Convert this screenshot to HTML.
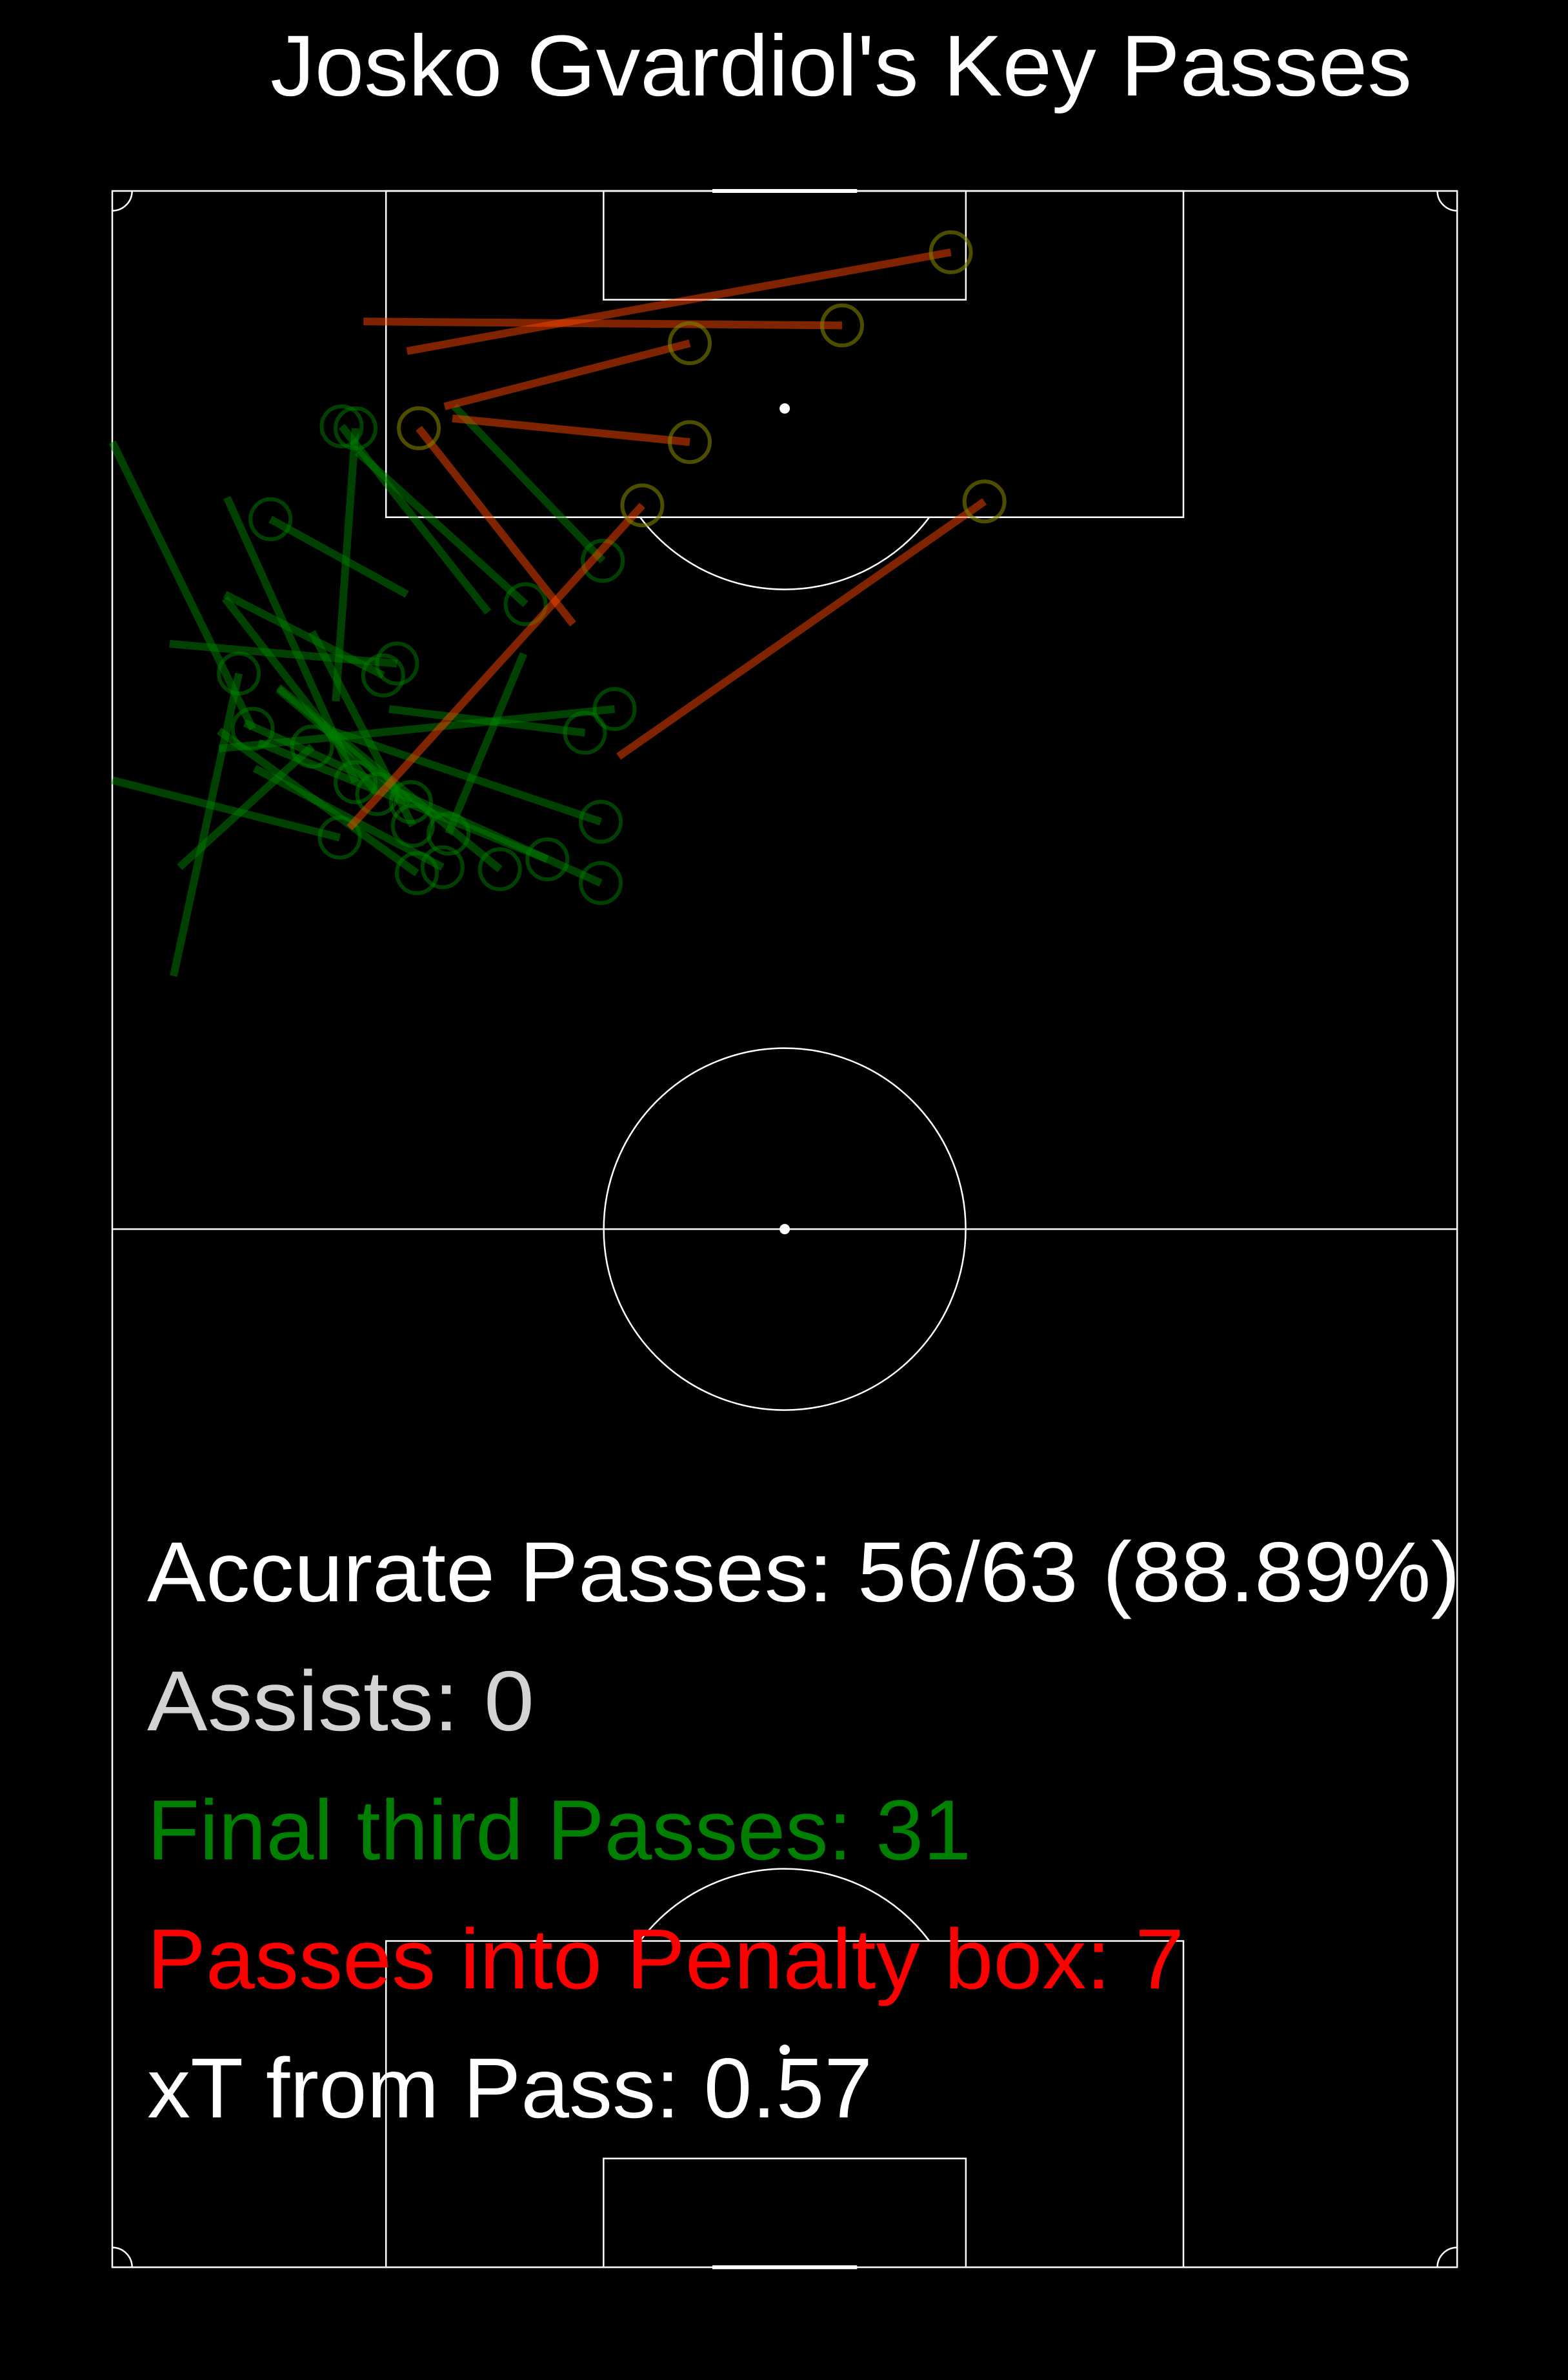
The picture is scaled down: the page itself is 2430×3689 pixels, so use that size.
<!DOCTYPE html>
<html><head><meta charset="utf-8">
<style>
html,body{margin:0;padding:0;background:#000;}
svg{display:block;}
text{font-family:"Liberation Sans",sans-serif;}
</style></head>
<body>
<svg id="chart" width="2430" height="3689" viewBox="0 0 2430 3689" xmlns="http://www.w3.org/2000/svg">
<rect width="2430" height="3689" fill="#000"/>
<text x="419" y="148" font-size="134" fill="#fff" textLength="1769" lengthAdjust="spacingAndGlyphs">Josko Gvardiol's Key Passes</text>
<g id="pitch" fill="none" stroke="#fff" stroke-width="2.5"></g>
<g id="passes"></g>
<g font-size="132">
<text x="228" y="2482" fill="#ffffff" textLength="2035" lengthAdjust="spacingAndGlyphs">Accurate Passes: 56/63 (88.89%)</text>
<text x="228" y="2682" fill="#d3d3d3" textLength="600" lengthAdjust="spacingAndGlyphs">Assists: 0</text>
<text x="228" y="2882" fill="#008000" textLength="1277" lengthAdjust="spacingAndGlyphs">Final third Passes: 31</text>
<text x="228" y="3082" fill="#ff0000" textLength="1607" lengthAdjust="spacingAndGlyphs">Passes into Penalty box: 7</text>
<text x="228" y="3282" fill="#ffffff" textLength="1124" lengthAdjust="spacingAndGlyphs">xT from Pass: 0.57</text>
</g>
</svg>
<script>
// pass data in pitch metres: x across (0-68, left->right), y from own goal (0-105, attacking up)
const boxStartX = [14.9,12.7,16.8,17.2,23.3,12.0,25.6];
const boxStartY = [96.9,98.4,94.1,93.5,83.1,72.8,76.4];
const boxEndX   = [42.4,36.9,29.2,29.2,15.5,26.8,44.1];
const boxEndY   = [101.9,98.2,97.3,92.3,93.0,89.1,89.3];

const ftStartX = [14.9,17.3,12.4,19.0,11.3,0,3.1,5.8,5.7,2.9,5.7,14.0,5.4,0,3.4,20.8,11.1,8.4,5.4,7.2,6.7,7.4,8.4,10.1];
const ftStartY = [84.6,94.1,91.8,83.7,79.2,92.3,65.3,89.5,84.6,82.1,84.4,78.8,76.8,75.2,70.8,81.6,77.7,79.9,77.7,75.8,78.1,77.1,79.8,82.7];
const ftEndX   = [8.0,24.8,20.9,11.6,12.3,7.1,6.4,12.3,13.7,14.4,13.4,23.9,25.4,11.5,10.1,17.0,24.7,19.6,15.4,16.7,24.7,22.0,15.1,15.2];
const ftEndY   = [88.4,86.3,84.1,93.1,93.0,77.8,80.6,75.1,80.5,81.1,74.5,77.6,78.8,72.3,76.9,72.5,73.1,70.7,70.5,70.8,70.0,71.2,74.1,72.9];

const SC = 30.65, X0 = 174, Y0 = 296, L = 105, W = 68;
function X(m){ return X0 + m*SC; }
function Y(m){ return Y0 + (L-m)*SC; }
const NS = 'http://www.w3.org/2000/svg';
function mk(tag, attrs, parent){
  const e = document.createElementNS(NS, tag);
  for (const k in attrs) e.setAttribute(k, attrs[k]);
  parent.appendChild(e); return e;
}
const pitch = document.getElementById('pitch');
let e;
e = mk('rect',{x:X(0),y:Y(L),width:W*SC,height:L*SC},pitch);


e = mk('line',{x1:X(0),y1:Y(52.5),x2:X(W),y2:Y(52.5)},pitch);


e = mk('circle',{cx:X(34),cy:Y(52.5),r:9.15*SC},pitch);


e = mk('circle',{cx:X(34),cy:Y(52.5),r:8,fill:'#fff',stroke:'none'},pitch);


[[L,-1,'top'],[0,1,'bottom']].forEach(([gy,d,nm])=>{
  e = mk('rect',{x:X(34-20.16),y:Math.min(Y(gy),Y(gy+d*16.5)),width:40.32*SC,height:16.5*SC},pitch);
  
  
  e = mk('rect',{x:X(34-9.16),y:Math.min(Y(gy),Y(gy+d*5.5)),width:18.32*SC,height:5.5*SC},pitch);
  
  
  e = mk('circle',{cx:X(34),cy:Y(gy+d*11),r:8,fill:'#fff',stroke:'none'},pitch);
  
  
  // penalty arc
  const r = 9.15, dy = 5.5, dx = Math.sqrt(r*r-dy*dy);
  const sy = gy + d*16.5;
  e = mk('path',{d:`M ${X(34-dx)} ${Y(sy)} A ${r*SC} ${r*SC} 0 0 ${d<0?0:1} ${X(34+dx)} ${Y(sy)}`},pitch);
  
  
  e = mk('line',{x1:X(34-3.66),y1:Y(gy),x2:X(34+3.66),y2:Y(gy),'stroke-width':6},pitch);
  
  
  // corner arcs
  const cr = SC;
  e = mk('path',{d:`M ${X(0)} ${Y(gy)+(-d)*cr} A ${cr} ${cr} 0 0 ${d<0?0:1} ${X(0)+cr} ${Y(gy)}`},pitch);
  
  
  e = mk('path',{d:`M ${X(W)-cr} ${Y(gy)} A ${cr} ${cr} 0 0 ${d<0?0:1} ${X(W)} ${Y(gy)+(-d)*cr}`},pitch);
  
  
});

const pg = document.getElementById('passes');
for (let i=0;i<ftStartX.length;i++){
  const ln = mk('line',{x1:X(ftStartX[i]),y1:Y(ftStartY[i]),x2:X(ftEndX[i]),y2:Y(ftEndY[i]),stroke:'rgba(0,128,0,0.5)','stroke-width':12},pg);
  
  
  const c = mk('circle',{cx:X(ftEndX[i]),cy:Y(ftEndY[i]),r:31,fill:'none',stroke:'rgba(0,128,0,0.5)','stroke-width':6},pg);
  
  
}
for (let i=0;i<boxStartX.length;i++){
  const ln = mk('line',{x1:X(boxStartX[i]),y1:Y(boxStartY[i]),x2:X(boxEndX[i]),y2:Y(boxEndY[i]),stroke:'rgba(255,69,0,0.5)','stroke-width':12},pg);
  
  
  const c = mk('circle',{cx:X(boxEndX[i]),cy:Y(boxEndY[i]),r:31,fill:'none',stroke:'rgba(128,128,0,0.6)','stroke-width':6},pg);
  
  
}
</script>
</body></html>
